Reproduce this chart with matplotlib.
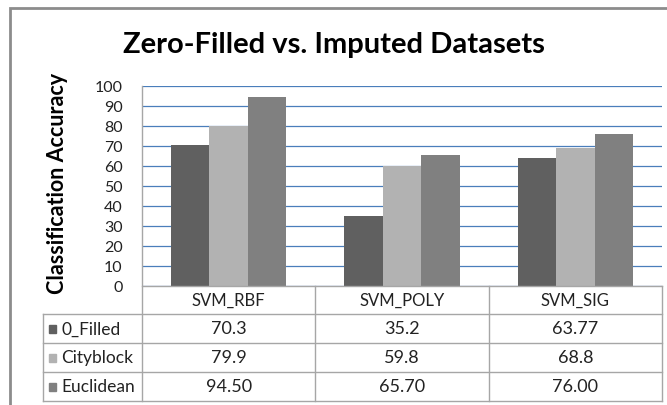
import matplotlib
matplotlib.use("Agg")
from matplotlib import pyplot as plt
from matplotlib.transforms import Affine2D, blended_transform_factory
from matplotlib.patches import Rectangle
import numpy as np

plt.rcParams['font.family'] = ['Lato', 'DejaVu Sans']

# 数据
categories = ['SVM_RBF', 'SVM_POLY', 'SVM_SIG']
series = ['0_Filled', 'Cityblock', 'Euclidean']
zero_filled = [70.3, 35.2, 63.77]
cityblock = [79.9, 59.8, 68.8]
euclidean = [94.50, 65.70, 76.00]
values = [zero_filled, cityblock, euclidean]
formats = ['{:g}', '{:g}', '{:.2f}']
colors = ['#606060', '#b2b2b2', '#808080']
yticks = list(range(0, 101, 10))

W, H = 667, 406
fig = plt.figure(figsize=(W / 100, H / 100), dpi=100)
# pixel coords measured from the top-left corner
px = Affine2D().scale(1, -1).translate(0, H)

ax = fig.add_axes([142 / W, 119 / H, 520 / W, 200 / H])
x = np.arange(len(categories))
bw = 0.222
for i, vals in enumerate(values):
    ax.bar(x + (i - 1) * bw, vals, width=bw, color=colors[i], zorder=2)

ax.set_xlim(-0.5, 2.5)
ax.set_ylim(0, 100)
ax.set_yticks(yticks)
ax.set_xticks([])
ax.yaxis.grid(True, color='#4a7ebb', lw=0.9, zorder=0)
ax.set_axisbelow(True)
for s in ['top', 'right', 'bottom', 'left']:
    ax.spines[s].set_visible(False)
ax.tick_params(axis='y', length=0, pad=14, labelsize=11.5, labelcolor='#222222')

# 数据表
line_kw = dict(color='#a6a6a6', lw=1.0, clip_on=False)
tr = blended_transform_factory(ax.transData, px)
rows = [287, 315, 344, 373, 402]
left = -0.5 - 99 / 173
ax.plot([-0.5, -0.5], [87, rows[-1]], transform=tr, **line_kw)
ax.plot([-0.5, 2.5], [rows[0], rows[0]], transform=tr, **line_kw)
for r in rows[1:]:
    ax.plot([left, 2.5], [r, r], transform=tr, **line_kw)
ax.plot([left, left], [rows[1], rows[-1]], transform=tr, **line_kw)
for c in [0.5, 1.5, 2.5]:
    ax.plot([c, c], [rows[0], rows[-1]], transform=tr, **line_kw)

for j, cat in enumerate(categories):
    ax.text(j, (rows[0] + rows[1]) / 2, cat, transform=tr, ha='center', va='center',
            fontsize=12, color='#222222')
for i, name in enumerate(series):
    yc = (rows[i + 1] + rows[i + 2]) / 2
    fig.patches.append(Rectangle((49, yc + 4), 7, -8, transform=px, color=colors[i]))
    fig.text(61, yc, name, transform=px, ha='left', va='center', fontsize=12.5, color='#222222')
    for j in range(len(categories)):
        ax.text(j, yc, formats[i].format(values[i][j]), transform=tr, ha='center',
                va='center', fontsize=13, color='#222222')

# 标题, y轴标签, 外框
fig.text(W / 2, 53, 'Zero-Filled vs. Imputed Datasets', transform=px, ha='center',
         va='baseline', fontsize=21, fontweight='bold')
fig.text(57, 183, 'Classification Accuracy', transform=px, ha='center', va='center',
         rotation=90, fontsize=15.5, fontweight='bold')
fig.patches.append(Rectangle((10, 410), 700, -401, transform=px, fill=False,
                             edgecolor='#8c8c8c', lw=2))

fig.savefig('out.png', dpi=100)
